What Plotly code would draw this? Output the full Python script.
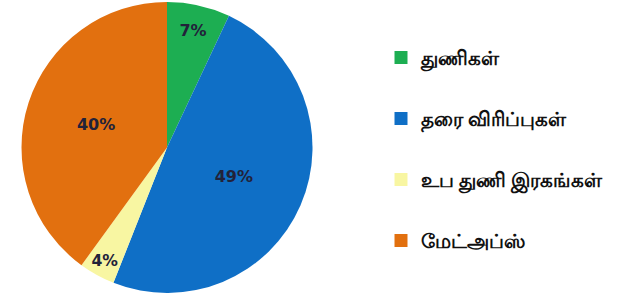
import plotly.graph_objects as go

labels = ["துணிகள்", "தரை விரிப்புகள்", "உப துணி இரகங்கள்", "மேட்அப்ஸ்"]
values = [7, 49, 4, 40]
colors = ["#1DAE52", "#0F6FC6", "#F8F6A2", "#E2700F"]

fig = go.Figure()
fig.add_trace(go.Pie(
    labels=labels, values=values, sort=False, direction="clockwise", rotation=0,
    marker=dict(colors=colors, line=dict(width=0)),
    textinfo="percent", textposition="inside", insidetextorientation="horizontal",
    textfont=dict(family="DejaVu Sans", size=16, color="#22223a", weight="bold"),
    showlegend=False, domain=dict(x=[0, 334/628], y=[0, 1]),
    hoverinfo="label+percent",
))
for i, (lab, col) in enumerate(zip(labels, colors)):
    fig.add_trace(go.Scatter(
        x=[None], y=[None], mode="markers", name=lab, legendgroup=str(i),
        marker=dict(symbol="square", size=13, color=col),
    ))

fig.update_layout(
    width=628, height=296, margin=dict(l=0, r=0, t=2, b=3),
    paper_bgcolor="white", plot_bgcolor="white",
    xaxis=dict(visible=False), yaxis=dict(visible=False),
    legend=dict(x=381/628, y=1 - 36/291, xanchor="left", yanchor="top",
                tracegroupgap=32, font=dict(family="Noto Sans, DejaVu Sans", size=20, color="#111", weight="bold"),
                itemwidth=30),
)
fig.write_html("out.html", post_script="document.body.style.margin='0';",
               config={"displayModeBar": False})
